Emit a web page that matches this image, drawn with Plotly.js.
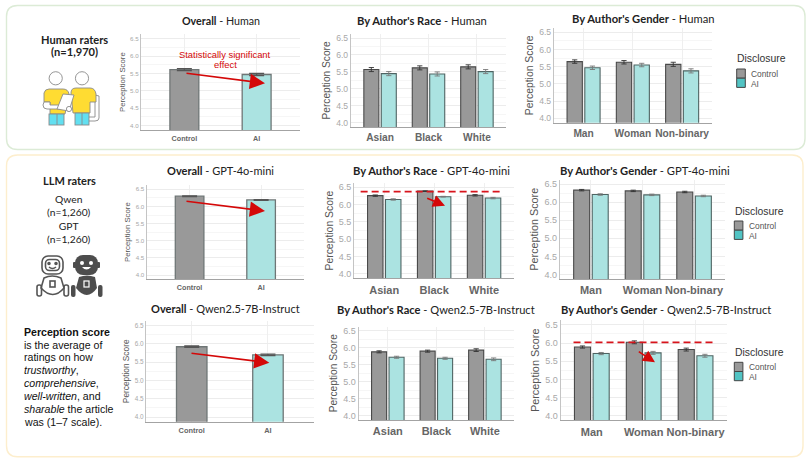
<!DOCTYPE html>
<html>
<head>
<meta charset="utf-8">
<script src="https://cdn.plot.ly/plotly-3.0.1.min.js"></script>
<style>
  body { margin: 0; background: #fff; }
  #chart-area { width: 812px; height: 462px; }
</style>
</head>
<body>
<div id="chart-area"></div>
<script>
const W = 812;
const H = 462;

const disclosure = ["Control", "AI"];
const races = ["Asian", "Black", "White"];
const genders = ["Man", "Woman", "Non-binary"];

// values
const humanOverall = [5.61, 5.47];
const humanOverallErr = [0.03, 0.03];
const humanRaceControl = [5.57, 5.62, 5.65];
const humanRaceAI = [5.45, 5.44, 5.51];
const humanRaceErr = [0.06, 0.06, 0.06];
const humanGenderControl = [5.65, 5.63, 5.57];
const humanGenderAI = [5.47, 5.55, 5.38];
const humanGenderErr = [0.05, 0.05, 0.06];

const gptOverall = [6.3, 6.19];
const gptOverallErr = [0.01, 0.01];
const gptRaceControl = [6.26, 6.39, 6.27];
const gptRaceAI = [6.15, 6.23, 6.19];
const gptRaceErr = [0.02, 0.01, 0.02];
const gptGenderControl = [6.33, 6.31, 6.28];
const gptGenderAI = [6.21, 6.2, 6.17];
const gptGenderErr = [0.02, 0.02, 0.02];

const qwenOverall = [5.92, 5.7];
const qwenOverallErr = [0.02, 0.02];
const qwenRaceControl = [5.88, 5.9, 5.93];
const qwenRaceAI = [5.72, 5.69, 5.66];
const qwenRaceErr = [0.03, 0.03, 0.04];
const qwenGenderControl = [5.89, 6.02, 5.82];
const qwenGenderAI = [5.71, 5.73, 5.65];
const qwenGenderErr = [0.03, 0.04, 0.04];

const TITLE_FONT = "Lato, sans-serif";
const ARIAL = "Liberation Sans, Arial, sans-serif";
const RED = "#d40808";

// pixel boxes of the nine plots, left to right, top row first
// fs = y tick size, cs = category size, ts = axis title size, so = title standoff, hs = panel heading size
const panels = [
  { l: 141, r: 300, t: 34.3, b: 130, small: true, title: "<b>Overall</b> - Human", tx: 220.6, ty: 20.7, cats: disclosure, single: humanOverall, err: humanOverallErr, fs: 6.2, cs: 7.2, ts: 7.8, so: 3, hs: 10.7 },
  { l: 351, r: 506, t: 33.8, b: 127, title: "<b>By Author's Race</b> - Human", tx: 421.7, ty: 20.7, cats: races, control: humanRaceControl, ai: humanRaceAI, err: humanRaceErr, fs: 8.6, cs: 10.2, ts: 10.2, so: 3, hs: 11.2 },
  { l: 554, r: 711.7, t: 28, b: 122.7, title: "<b>By Author's Gender</b> - Human", tx: 643, ty: 18, cats: genders, control: humanGenderControl, ai: humanGenderAI, err: humanGenderErr, fs: 8.6, cs: 10.2, ts: 10.4, so: 3, hs: 11.2 },
  { l: 146.7, r: 304, t: 185, b: 279.3, small: true, title: "<b>Overall</b> - GPT-4o-mini", tx: 220.7, ty: 170, cats: disclosure, single: gptOverall, err: gptOverallErr, fs: 6.2, cs: 7.2, ts: 7.8, so: 3, hs: 11 },
  { l: 354.3, r: 514, t: 183, b: 278.3, title: "<b>By Author's Race</b> - GPT-4o-mini", tx: 431, ty: 170.3, cats: races, control: gptRaceControl, ai: gptRaceAI, err: gptRaceErr, fs: 9, cs: 11, ts: 10.4, so: 3, hs: 11.2 },
  { l: 560, r: 725, t: 179.5, b: 279, title: "<b>By Author's Gender</b> - GPT-4o-mini", tx: 645, ty: 170.3, cats: genders, control: gptGenderControl, ai: gptGenderAI, err: gptGenderErr, fs: 9, cs: 11, ts: 10.8, so: 3, hs: 11.2 },
  { l: 146, r: 313.7, t: 320.9, b: 421.7, small: true, title: "<b>Overall</b> - Qwen2.5-7B-Instruct", tx: 225.7, ty: 308.7, cats: disclosure, single: qwenOverall, err: qwenOverallErr, fs: 6.4, cs: 7.4, ts: 8.3, so: 3, hs: 11 },
  { l: 358.7, r: 514, t: 326.5, b: 420, title: "<b>By Author's Race</b> - Qwen2.5-7B-Instruct", tx: 436.3, ty: 309.7, cats: races, control: qwenRaceControl, ai: qwenRaceAI, err: qwenRaceErr, fs: 9, cs: 11, ts: 10.2, so: 3, hs: 11.1 },
  { l: 560.7, r: 726.7, t: 320.3, b: 420.3, title: "<b>By Author's Gender</b> - Qwen2.5-7B-Instruct", tx: 665.7, ty: 309, cats: genders, control: qwenGenderControl, ai: qwenGenderAI, err: qwenGenderErr, fs: 9, cs: 11, ts: 10.9, so: 3, hs: 11.1 },
];

const px = (x) => x / W;
const py = (y) => 1 - y / H;

function roundRect(x0, y0, x1, y1, r, color) {
  const rx = r / W;
  const ry = r / H;
  const [a, b, c, d] = [px(x0), py(y0), px(x1), py(y1)];
  return {
    type: "path",
    xref: "paper",
    yref: "paper",
    layer: "below",
    line: { color: color, width: 1.4 },
    path:
      `M ${a + rx} ${b} L ${c - rx} ${b} Q ${c} ${b} ${c} ${b - ry} ` +
      `L ${c} ${d + ry} Q ${c} ${d} ${c - rx} ${d} L ${a + rx} ${d} ` +
      `Q ${a} ${d} ${a} ${d + ry} L ${a} ${b - ry} Q ${a} ${b} ${a + rx} ${b} Z`,
  };
}

function label(text, x, y, size, opts) {
  return Object.assign(
    {
      text: text,
      xref: "paper",
      yref: "paper",
      x: px(x),
      y: py(y),
      showarrow: false,
      xanchor: "center",
      yanchor: "middle",
      font: { family: TITLE_FONT, size: size, color: "#222" },
    },
    opts || {}
  );
}

function arrow(x0, y0, x1, y1, headSize) {
  return {
    text: "",
    xref: "paper",
    yref: "paper",
    x: px(x1),
    y: py(y1),
    ax: x0 - x1,
    ay: y0 - y1,
    showarrow: true,
    arrowhead: 2,
    arrowsize: headSize,
    arrowwidth: 1.6,
    arrowcolor: RED,
    standoff: 0,
  };
}

function legendBlock(x, titleY, swatchY, labelY1, labelY2) {
  shapes.push(
    { type: "rect", xref: "paper", yref: "paper", x0: px(x), x1: px(x + 8.6), y0: py(swatchY), y1: py(swatchY + 9.2), fillcolor: "#999999", line: { color: "#444", width: 1 } },
    { type: "rect", xref: "paper", yref: "paper", x0: px(x), x1: px(x + 8.6), y0: py(swatchY + 9.2), y1: py(swatchY + 18.4), fillcolor: "#52c4c4", line: { color: "#444", width: 1 } }
  );
  annotations.push(
    label("Disclosure", x - 1.5, titleY, 10.4, { xanchor: "left", font: { family: ARIAL, size: 10.4, color: "#333" } }),
    label("Control", x + 12.5, labelY1, 8.4, { xanchor: "left", font: { family: ARIAL, size: 8.4, color: "#555" } }),
    label("AI", x + 12.5, labelY2, 8.4, { xanchor: "left", font: { family: ARIAL, size: 8.4, color: "#555" } })
  );
}

const data = [];
const shapes = [roundRect(6.5, 5.5, 805, 149.5, 11, "#dcebd6"), roundRect(6.5, 155, 803, 456.7, 11, "#fdeecd")];
const annotations = [];
const layout = {
  width: W,
  height: H,
  margin: { l: 0, r: 0, t: 0, b: 0 },
  paper_bgcolor: "#ffffff",
  plot_bgcolor: "rgba(0,0,0,0)",
  showlegend: false,
  barmode: "overlay",
};

panels.forEach((p, i) => {
  const n = i + 1;
  const xName = "x" + n;
  const yName = "y" + n;
  layout["xaxis" + n] = {
    domain: [px(p.l), px(p.r)],
    anchor: yName,
    type: "category",
    categoryorder: "array",
    categoryarray: p.cats,
    range: [-0.6, p.cats.length - 0.4],
    showline: true,
    linecolor: "#a3a3a3",
    linewidth: 1.3,
    showgrid: true,
    gridcolor: "#efefef",
    ticks: "",
    ticklabelstandoff: 1,
    tickfont: { family: ARIAL, size: p.cs, color: "#666", weight: "bold" },
  };
  layout["yaxis" + n] = {
    domain: [py(p.b), py(p.t)],
    anchor: xName,
    range: [3.875, 6.625],
    tick0: 4,
    dtick: 0.5,
    tickformat: ".1f",
    showline: true,
    linecolor: "#c4c4c4",
    linewidth: 1.3,
    showgrid: true,
    gridcolor: "#ececec",
    zeroline: false,
    ticks: "",
    tickfont: { family: ARIAL, size: p.fs, color: "#a8a8a8" },
    minor: { tick0: 4, dtick: 0.25, showgrid: true, gridcolor: "#f6f6f6", ticklen: 0 },
    title: {
      text: "Perception Score",
      standoff: p.so,
      font: { family: ARIAL, size: p.ts, color: "#555" },
    },
  };

  if (p.single) {
    data.push({
      type: "bar",
      x: p.cats,
      y: p.single,
      width: 0.4,
      xaxis: xName,
      yaxis: yName,
      marker: { color: ["#999999", "#abe3e1"], line: { color: "#6f7676", width: 1.3 } },
      error_y: { type: "data", array: p.err, color: "#555", thickness: 1.3, width: 7.5 },
    });
  } else {
    data.push(
      {
        type: "bar",
        name: "Control",
        x: p.cats,
        y: p.control,
        width: 0.31,
        offset: -0.335,
        xaxis: xName,
        yaxis: yName,
        marker: { color: "#999999", line: { color: "#4a4a4a", width: 1.1 } },
        error_y: { type: "data", array: p.err, color: "#333", thickness: 0.9, width: 2.6 },
      },
      {
        type: "bar",
        name: "AI",
        x: p.cats,
        y: p.ai,
        width: 0.31,
        offset: 0.025,
        xaxis: xName,
        yaxis: yName,
        marker: { color: "#abe3e1", line: { color: "#4f6463", width: 1.1 } },
        error_y: { type: "data", array: p.err, color: "#777", thickness: 0.9, width: 2.6 },
      }
    );
  }

  annotations.push(label(p.title, p.tx, p.ty, p.hs));
});

// red dashed reference lines, at the height of the tallest bar
shapes.push(
  { type: "line", xref: "x5", yref: "y5", x0: -0.473, x1: 2.32, y0: 6.374, y1: 6.374, line: { color: "#d8141c", width: 1.8, dash: "7px,4px" } },
  { type: "line", xref: "x9", yref: "y9", x0: -0.353, x1: 2.334, y0: 6.02, y1: 6.02, line: { color: "#d8141c", width: 1.8, dash: "7px,4px" } }
);

annotations.push(
  arrow(185, 73, 265, 83.3, 1.9),
  arrow(185, 201, 265, 211, 1.9),
  arrow(425.7, 197.7, 445, 205.7, 1.5),
  arrow(190, 353, 269.3, 362.7, 1.9),
  arrow(637.3, 350.7, 655, 362.3, 1.5),
  label("Statistically significant", 225.5, 54, 9.4, { font: { family: ARIAL, size: 9.4, color: RED } }),
  label("effect", 225.5, 64.7, 9.4, { font: { family: ARIAL, size: 9.4, color: RED } }),
  label("<b>Human raters</b>", 74, 39.3, 11.1),
  label("<b>(n=1,970)</b>", 74, 52, 11.1),
  label("<b>LLM raters</b>", 69, 180.5, 11),
  // one block, so the four close lines stay apart
  label("Qwen<br>(n=1,260)<br>GPT<br>(n=1,260)", 69, 219.5, 10.3)
);

// perception score note, line by line
const noteLines = [
  "<b>Perception score</b>",
  "is the average of",
  "ratings on how",
  "<i>trustworthy</i>,",
  "<i>comprehensive</i>,",
  "<i>well-written</i>, and",
  "<i>sharable</i> the article",
  "was (1–7 scale).",
];
noteLines.forEach((line, i) => {
  annotations.push(
    label(line, 21.5, 331.7 + i * 12.86, 10.6, { xanchor: "left", font: { family: ARIAL, size: 10.6, color: "#111" } })
  );
});

legendBlock(736.7, 59, 69, 74, 83.5);
legendBlock(734.3, 211, 221, 226.3, 235.7);
legendBlock(734.3, 352, 362.3, 367, 376.5);

const humansIcon = `<svg xmlns="http://www.w3.org/2000/svg" viewBox="0 0 70 65">
<g stroke="#8a8a8a" stroke-width="0.9">
<circle cx="20.7" cy="13.3" r="6.6" fill="#fff"/><circle cx="47" cy="13.3" r="6.6" fill="#fff"/>
<path d="M60 30 L64 31 L64 53 Q64 56 60 56 L53 56 L53 52 L60 52 Z" fill="#fff"/>
<path d="M36 28 Q36 23 41 23 L55 23 Q60 23 61 29 L61 37 L55 37 L55 48 L38 48 Z" fill="#ffdc32"/>
<rect x="40" y="48" width="14" height="12" fill="#62dff0"/>
<path d="M47 48 V60" fill="none"/>
<path d="M9 28 Q10 24 14 24 L28 24 Q33 24 34 29 L30 49 L15 49 L15 37 L9 37 Z" fill="#ffdc32"/>
<path d="M9 37 L15 37 L15 40 L26 40 L26 44 L12 44 Q8 44 8 40 Z" fill="#fff"/>
<rect x="14" y="49" width="15" height="11" fill="#62dff0"/>
<path d="M22 49 V60" fill="none"/>
<path d="M28 29 L39 30 L34 46 L22 44 Z" fill="#fff"/>
<circle cx="34" cy="44" r="2.6" fill="#fff"/>
</g></svg>`;

const robotsIcon = `<svg xmlns="http://www.w3.org/2000/svg" viewBox="0 0 80 55">
<g fill="none" stroke="#555" stroke-width="1.6">
<rect x="12" y="8" width="21" height="18" rx="6" fill="#fff"/>
<rect x="15.5" y="11.5" width="14" height="11" rx="4"/>
<path d="M14 30 Q22 26 31 30 L34 40 Q23 53 11 40 Z" fill="#fff"/>
<rect x="20" y="33" width="5" height="6"/>
<rect x="7" y="37" width="4.5" height="11" rx="2"/>
<rect x="34" y="37" width="4.5" height="11" rx="2"/>
<circle cx="19" cy="15.5" r="1" fill="#555"/><circle cx="26" cy="15.5" r="1" fill="#555"/>
<path d="M19 19 Q22.5 22 26 19"/>
</g>
<g fill="#4d4d4d">
<rect x="45" y="7" width="23" height="20" rx="8"/>
<rect x="43" y="14" width="3" height="6" rx="1"/><rect x="67" y="14" width="3" height="6" rx="1"/>
<path d="M49 29 Q57 26 65 29 L67 40 Q57 54 46 40 Z"/>
<rect x="41" y="37" width="4.5" height="12" rx="2"/><rect x="68" y="37" width="4.5" height="12" rx="2"/>
</g>
<g fill="#fff"><circle cx="52" cy="15" r="2"/><circle cx="61" cy="15" r="2"/>
<path d="M52 19 Q56.5 24 61 19 Z"/>
<rect x="54" y="33" width="5" height="6" fill="none" stroke="#fff" stroke-width="1.2"/></g></svg>`;

function iconImage(svg, x, y, w, h) {
  return {
    source: "data:image/svg+xml;utf8," + encodeURIComponent(svg),
    xref: "paper",
    yref: "paper",
    x: px(x),
    y: py(y),
    sizex: w / W,
    sizey: h / H,
    sizing: "stretch",
    xanchor: "left",
    yanchor: "top",
    layer: "above",
  };
}

layout.images = [iconImage(humansIcon, 35, 65, 70, 65), iconImage(robotsIcon, 30, 248, 80, 55)];
layout.shapes = shapes;
layout.annotations = annotations;

Plotly.newPlot("chart-area", data, layout, { displayModeBar: false, responsive: false });
</script>
</body>
</html>
